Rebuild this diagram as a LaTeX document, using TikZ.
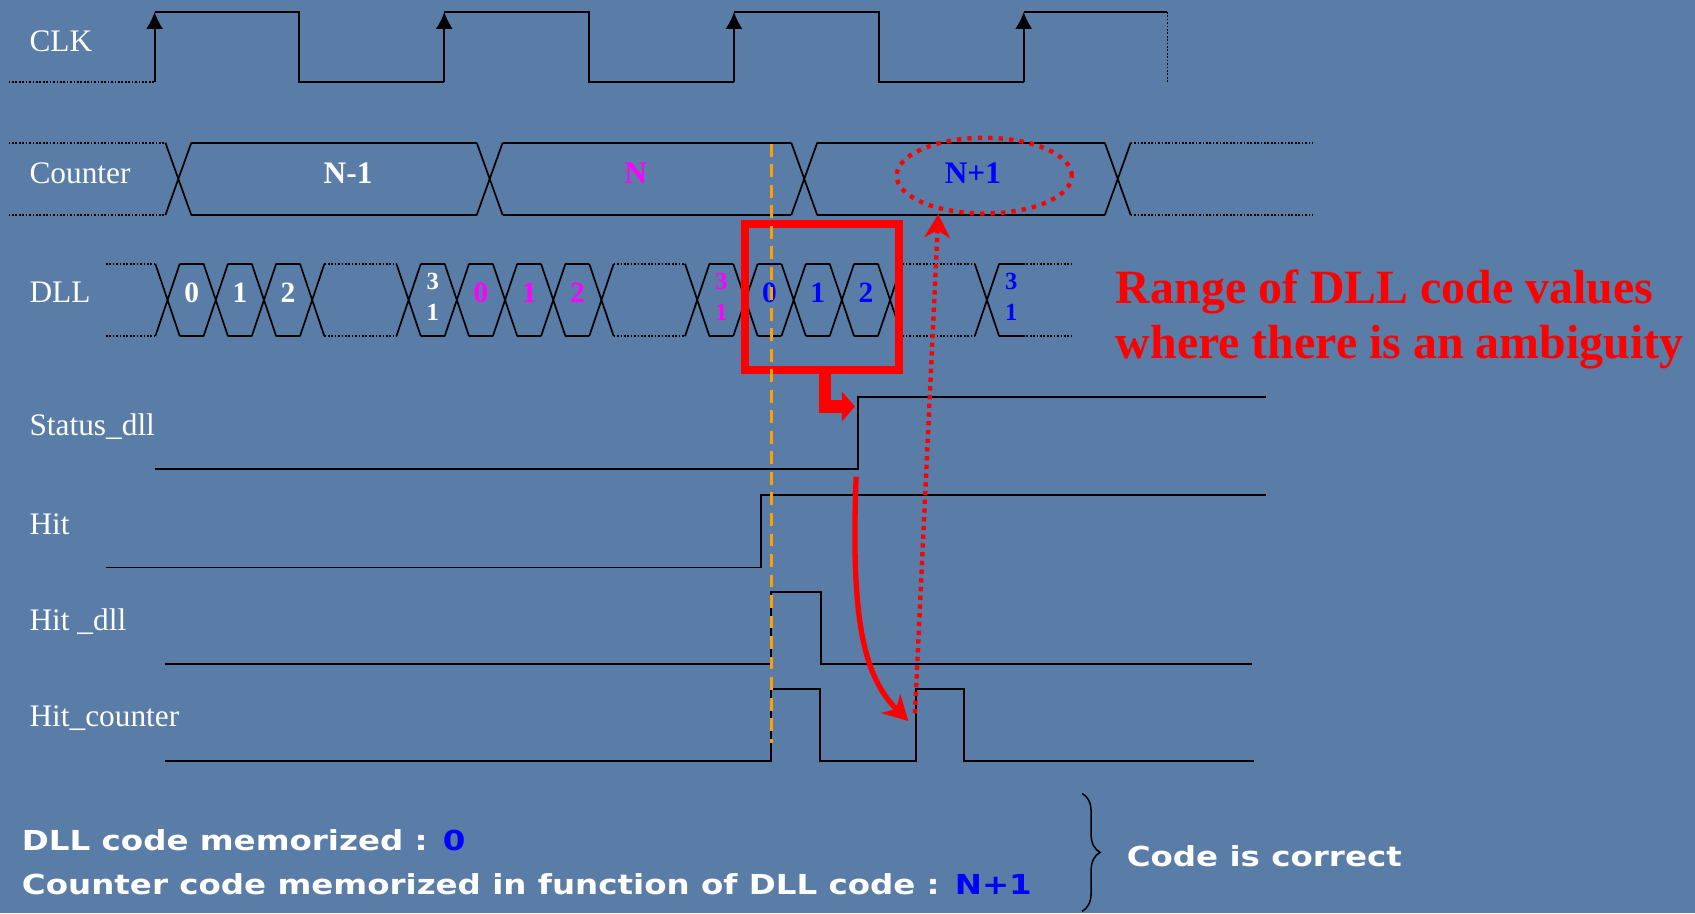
\documentclass[tikz,border=0pt]{standalone}
\usepackage{xcolor}
\usepackage{fontspec}
\setmainfont{Liberation Serif}
\newfontfamily\comicfont[FakeStretch=1.18]{DejaVu Sans}
\usepackage{tikz}
\usetikzlibrary{arrows.meta, shapes.geometric, decorations.pathreplacing, positioning}
\definecolor{slide}{RGB}{89,125,166}
\definecolor{hitorange}{RGB}{255,160,0}
\definecolor{codemag}{RGB}{255,0,255}
\definecolor{codeblue}{RGB}{0,0,255}

\begin{document}
\begin{tikzpicture}[x=0.02cm, y=-0.02cm]
\tikzstyle{sig} = [line width=1pt, black]
\tikzstyle{bus} = [line width=0.9pt, black]
\tikzstyle{idle} = [line width=0.9pt, black, dash pattern=on 0.9pt off 0.9pt]
\tikzstyle{clkedge} = [line width=1pt, black, -{Latex[length=9pt,width=9pt]}]
\tikzstyle{siglabel} = [anchor=west, text=white, inner sep=0pt, font=\fontsize{16.5}{19}\selectfont]
\tikzstyle{busval} = [inner sep=0pt, font=\bfseries\fontsize{16.5}{19}\selectfont]
\tikzstyle{dllcode} = [inner sep=0pt, font=\bfseries\fontsize{15.5}{17}\selectfont]
\tikzstyle{dllstack} = [inner sep=0pt, align=center, font=\bfseries\fontsize{13}{16.5}\selectfont]
\tikzstyle{ringdots} = [draw=red, line width=2.3pt, dash pattern=on 2.3pt off 3.2pt]
\tikzstyle{fatarrow} = [red, line width=6.5pt, -{Triangle[length=7pt,width=15.5pt]}]
\tikzstyle{swing} = [red, line width=2.8pt, -{Stealth[length=13pt,width=14pt,inset=4pt]}]
\tikzstyle{dotlink} = [red, line width=2.3pt, dash pattern=on 2.3pt off 2.3pt, -{Stealth[length=12.5pt,width=13.5pt,inset=4pt]}]
\tikzstyle{ambig} = [anchor=base west, text=red, inner sep=0pt, font=\bfseries\fontsize{25.2}{29}\selectfont]
\tikzstyle{memo} = [anchor=west, text=white, inner sep=0pt, font=\comicfont\bfseries\fontsize{14.5}{17}\selectfont]

\useasboundingbox (0,0) rectangle (1568,845);
\fill[slide] (0,0) rectangle (1568,845);

\node (clk) [siglabel] at (27,38) {CLK};
\node (counter) [siglabel] at (27,160) {Counter};
\node (dll) [siglabel] at (27,270) {DLL};
\node (status) [siglabel] at (27,395) {Status\_dll};
\node (hit) [siglabel] at (27,485) {Hit};
\node (hitdll) [siglabel] at (27,575) {Hit \_dll};
\node (hitcounter) [siglabel] at (27,664) {Hit\_counter};

\draw[idle] (8,76) -- (143,76);
\foreach \x in {143,411,679} {
  \draw[clkedge] (\x,76) -- (\x,11);
  \draw[sig] (\x,11) -- (\x+134,11) -- (\x+134,76) -- (\x+268,76);
}
\draw[clkedge] (947,76) -- (947,11);
\draw[sig] (947,11) -- (1080,11);
\draw[idle] (1080,11) -- (1080,76);

\draw[idle] (8,132) -- (153,132) (8,199) -- (153,199);
\draw[idle] (1046,132) -- (1215,132) (1046,199) -- (1215,199);
\foreach \c in {165,453,744,1034}
  \draw[bus] (\c-12,132) -- (\c+12,199) (\c-12,199) -- (\c+12,132);
\foreach \a/\b in {177/441,465/732,756/1022}
  \draw[bus] (\a,132) -- (\b,132) (\a,199) -- (\b,199);
\node (nminus) [busval, text=white] at (322,160) {N-1};
\node (nzero) [busval, text=codemag] at (588,160) {N};
\node (nplus) [busval, text=codeblue] at (900,160) {N+1};
\node (nring) [ringdots, ellipse, minimum width=3.24cm, minimum height=1.4cm, inner sep=0pt] at (910.5,162.5) {};

\foreach \c in {155,199.6,244.2,288.8,378,422.6,467.2,511.8,556.4,645,689.6,734.2,778.8,823.4,913}
  \draw[bus] (\c-11.3,244) -- (\c+11.3,311) (\c-11.3,311) -- (\c+11.3,244);
\foreach \a in {166.3,210.9,255.5,389.3,433.9,478.5,523.1,656.3,700.9,745.5,790.1,924.3}
  \draw[bus] (\a,244) -- (\a+22,244) (\a,311) -- (\a+22,311);
\foreach \a/\b in {98/143.7,300.1/366.7,567.7/633.7,834.7/901.7,946.3/992}
  \draw[idle] (\a,244) -- (\b,244) (\a,311) -- (\b,311);
\foreach \x/\v in {177.3/0,221.9/1,266.5/2}
  \node (wa\v) [dllcode, text=white] at (\x,271) {\v};
\foreach \x/\v in {444.9/0,489.5/1,534.1/2}
  \node (mb\v) [dllcode, text=codemag] at (\x,271) {\v};
\foreach \x/\v in {711.9/0,756.5/1,801.1/2}
  \node (bc\v) [dllcode, text=codeblue] at (\x,271) {\v};
\node (wlast) [dllstack, text=white] at (400.3,274.5) {3\\1};
\node (mlast) [dllstack, text=codemag] at (667.3,274.5) {3\\1};
\node (blast) [dllstack, text=codeblue] at (935.6,274.5) {3\\1};

\draw[sig] (143,434) -- (793.4,434) -- (793.4,367) -- (1171,367);
\draw[sig] (98,525) -- (704,525) -- (704,457.6) -- (1171,457.6);
\draw[sig] (152.6,614.6) -- (713.5,614.6) -- (713.5,547.3) -- (759.5,547.3) -- (759.5,614.6) -- (1158,614.6);
\draw[sig] (152.6,704) -- (713.5,704) -- (713.5,637.4) -- (758.6,637.4) -- (758.6,704) -- (847.5,704) -- (847.5,637.4) -- (892,637.4) -- (892,704) -- (1160,704);

\node (ambigbox) [draw=red, line width=4.3pt, minimum width=2.84cm, minimum height=2.71cm, inner sep=0pt] at (760.3,274.75) {};
\draw[hitorange, line width=1.7pt, dash pattern=on 6.8pt off 4pt] (714,133) -- (714,687);

\coordinate (fatstem) at (763.4,342.5);
\coordinate (fattip) at (791,376);
\draw[fatarrow] (fatstem) |- (fattip);

\coordinate (swingstart) at (792,441);
\coordinate (swingend) at (840.3,667);
\draw[swing] (swingstart) .. controls (787,570) and (798,625) .. (swingend);

\coordinate (dotstart) at (846.4,660);
\coordinate (dotend) at (868,198);
\draw[dotlink] (dotstart) -- (dotend);

\node (ambigtop) [ambig] at (1032,280.6) {Range of DLL code values};
\node (ambigbot) [ambig] at (1032,331.5) {where there is an ambiguity};

\node (dllmem) [memo] at (20,777) {DLL code memorized : \textcolor{codeblue}{0}};
\node (cntmem) [memo] at (20,818) {Counter code memorized in function of DLL code : \textcolor{codeblue}{N+1}};
\draw[decorate, decoration={brace, amplitude=9.5pt}, line width=0.8pt] (1001,734) -- (1001,843);
\node (correct) [memo] at (1042,792) {Code is correct};
\end{tikzpicture}
\end{document}
